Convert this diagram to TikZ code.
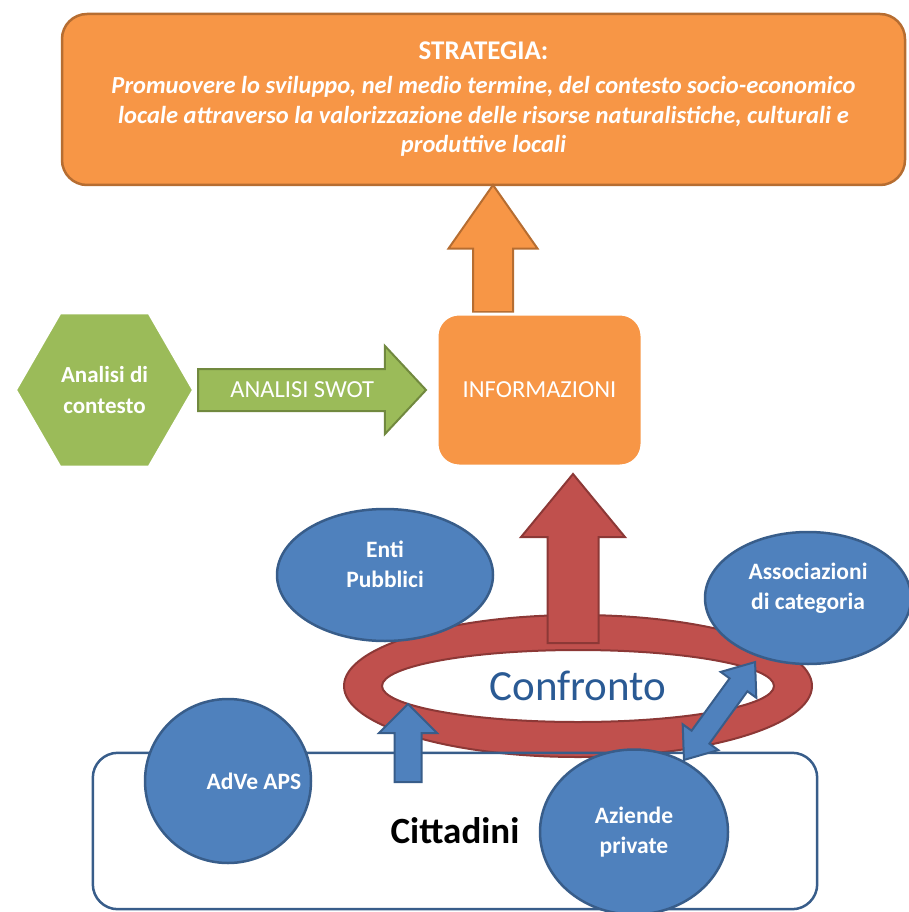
\documentclass[tikz,border=0pt]{standalone}
\usepackage{fontspec}
\setmainfont{Carlito}
\usetikzlibrary{shapes.geometric,shapes.arrows}

\definecolor{orangefill}{HTML}{F79646}
\definecolor{orangeline}{HTML}{B66D31}
\definecolor{greenfill}{HTML}{9BBB59}
\definecolor{greenline}{HTML}{71893F}
\definecolor{redfill}{HTML}{C0504D}
\definecolor{redline}{HTML}{8C3836}
\definecolor{bluefill}{HTML}{4F81BD}
\definecolor{blueline}{HTML}{385D8A}
\definecolor{confrontoblue}{HTML}{2A5A94}

\tikzset{
    stratbox/.style={rectangle, rounded corners=25pt, draw=orangeline, line width=2.5pt,
        fill=orangefill, text=white, align=center, minimum width=843pt, minimum height=171pt},
    infobox/.style={rectangle, rounded corners=22pt, draw=white, line width=3pt,
        fill=orangefill, text=white, minimum width=205pt, minimum height=152pt},
    bubble/.style={ellipse, draw=blueline, line width=2.5pt, fill=bluefill, text=white,
        align=center, inner sep=0pt, font=\fontsize{23.5}{30}\selectfont\bfseries},
    bubbletext/.style={text=white, align=center, font=\fontsize{23.5}{30}\selectfont\bfseries},
    blockarrow/.style={single arrow, line width=2pt, inner xsep=0pt, minimum width=0pt,
        text height=0pt, text depth=0pt},
}

\begin{document}
\begin{tikzpicture}[x=1pt, y=-1pt]
        % Fix the page to the size of the picture
        \useasboundingbox (0,0) rectangle (908,912);

        % Strategy on top
        \node[stratbox, font=\fontsize{24.5}{29.5}\selectfont\bfseries\itshape] (strat) at (483.5,99.5)
            {{\fontsize{27}{29.5}\selectfont\upshape STRATEGIA:}\\[4.5pt]
             Promuovere lo sviluppo, nel medio termine, del contesto socio-economico\\
             locale attraverso la valorizzazione delle risorse naturalistiche, culturali e\\
             produttive locali};

        % Orange arrow from the information up to the strategy
        \node[blockarrow, draw=orangeline, fill=orangefill, rotate=90, anchor=tail,
            minimum height=127pt, inner ysep=19pt, single arrow head extend=24.5pt,
            single arrow tip angle=70] (up1) at (493,313) {};

        \node[infobox, font=\fontsize{24.5}{28}\selectfont] (info) at (539.5,390) {INFORMAZIONI};

        % Context analysis and SWOT
        \node[regular polygon, regular polygon sides=6, minimum size=177pt, fill=greenfill,
            draw=white, line width=2pt, text=white, align=center,
            font=\fontsize{23}{31}\selectfont\bfseries] (analisi) at (104.5,390) {Analisi di\\contesto};
        \node[blockarrow, draw=greenline, fill=greenfill, text=white, anchor=tail,
            minimum height=228pt, inner ysep=12.5pt, text height=15pt,
            single arrow head extend=23pt, single arrow tip angle=94,
            font=\fontsize{24.5}{26}\selectfont] (swot) at (197,390) {ANALISI SWOT};

        % Citizens box, filled first
        \node[rectangle, rounded corners=25pt, fill=white, minimum width=724pt, minimum height=156pt,
            font=\fontsize{37}{40}\selectfont\bfseries] (citt) at (455,831) {Cittadini};

        % Red ring
        \coordinate (ringc) at (578,686);
        \draw[redline, fill=redfill, line width=2pt, even odd rule]
            (ringc) ellipse [x radius=234, y radius=71]
            (ringc) ellipse [x radius=196, y radius=36];

        % Outline of the citizens box over the ring
        \draw[blueline, line width=2.5pt, rounded corners=25pt] (citt.south west) rectangle (citt.north east);

        % Red arrow up to the information
        \node[blockarrow, draw=redline, fill=redfill, rotate=90, anchor=tail,
            minimum height=169pt, inner ysep=24.5pt, single arrow head extend=26.5pt,
            single arrow tip angle=79] (up2) at (573,644) {};

        % Actors
        \node[bubble, minimum width=216pt, minimum height=132pt,
            label={[bubbletext, yshift=11pt]center:{Enti\\Pubblici}}] (enti) at (385,575) {};
        \node[bubble, minimum width=206pt, minimum height=132pt,
            label={[bubbletext, yshift=10pt]center:{Associazioni\\di categoria}}] (assoc) at (808,598) {};
        \node[bubble, minimum width=166pt, minimum height=164pt,
            label={[bubbletext, xshift=26pt]center:{AdVe APS}}] (adve) at (228,781) {};
        \node[bubble, minimum width=188pt, minimum height=165pt] (aziende) at (634,832) {Aziende\\private};

        % Small blue arrows
        \node[blockarrow, draw=blueline, fill=bluefill, rotate=90, anchor=tail,
            minimum height=78pt, inner ysep=12.5pt, single arrow head extend=15.5pt,
            single arrow tip angle=90] (up3) at (408,783) {};
        \node[double arrow, draw=blueline, fill=bluefill, line width=2pt, rotate=54,
            inner xsep=0pt, inner ysep=10pt, minimum width=0pt, text height=0pt, text depth=0pt,
            minimum height=121pt, double arrow head extend=11pt,
            double arrow tip angle=76] (dbl) at (719.5,711) {};

        \node[text=confrontoblue, font=\fontsize{43}{46}\selectfont] (confronto) at (ringc) {Confronto};

    \end{tikzpicture}
\end{document}
